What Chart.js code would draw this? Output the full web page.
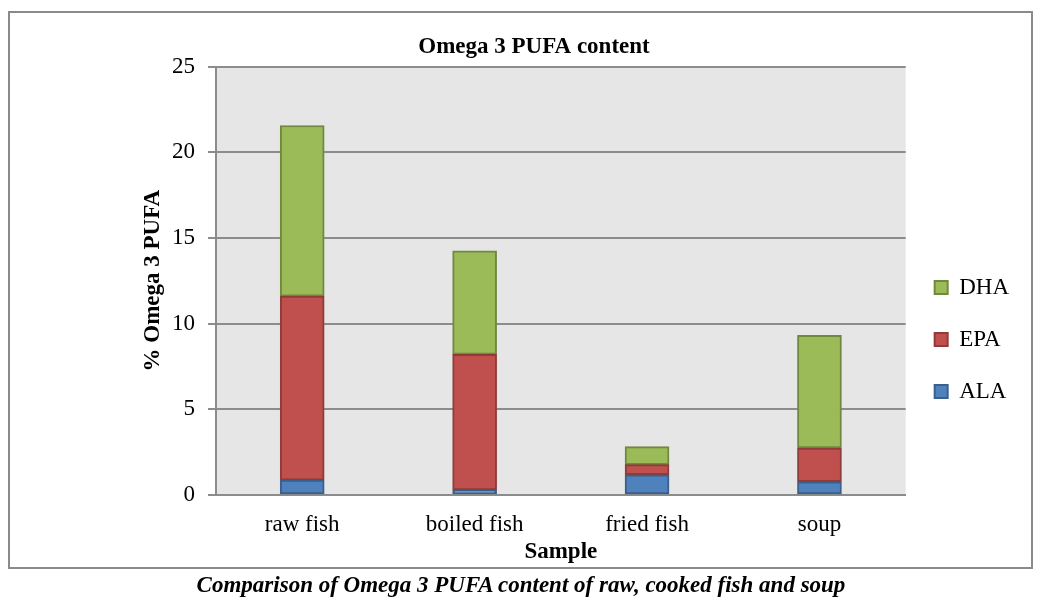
<!DOCTYPE html>
<html>
<head>
<meta charset="utf-8">
<script src="https://cdn.jsdelivr.net/npm/chart.js@4.4.1/dist/chart.umd.min.js"></script>
<style>
  html, body { margin: 0; padding: 0; background: #fff; }
  #wrap { position: relative; width: 1041px; height: 598px; overflow: hidden; }
  #frame { position: absolute; left: 8px; top: 11px; width: 1025px; height: 558px;
           border: 2px solid #8a8a8a; box-sizing: border-box; pointer-events: none; }
  #chart { position: absolute; left: 0; top: 0; }
  #caption { position: absolute; left: 0; top: 571px; width: 1042px; text-align: center;
             font: italic bold 23px "Liberation Serif", "Times New Roman", serif; line-height: 28px; color: #000; }
</style>
</head>
<body>
<div id="wrap">
  <div id="frame"></div>
  <canvas id="chart" width="1041" height="598"></canvas>
  <div id="caption">Comparison of Omega 3 PUFA content of raw, cooked fish and soup</div>
</div>
<script>
  const samples = ["raw fish", "boiled fish", "fried fish", "soup"];
  const ala = [0.86, 0.28, 1.17, 0.76];
  const epa = [10.74, 7.92, 0.59, 1.97];
  const dha = [9.96, 6.05, 1.05, 6.58];
  const yTicks = [0, 5, 10, 15, 20, 25];

  const serif = "'Liberation Serif', 'Times New Roman', serif";
  const gridGray = "#8c8c8c";

  // grey plot background like the original
  const plotBg = {
    id: "plotBg",
    beforeDraw(chart) {
      const { ctx, chartArea: a } = chart;
      ctx.save();
      ctx.fillStyle = "#e6e6e6";
      ctx.fillRect(a.left, a.top, a.right - a.left, a.bottom - a.top);
      ctx.restore();
    }
  };

  new Chart(document.getElementById("chart").getContext("2d"), {
    type: "bar",
    data: {
      labels: samples,
      datasets: [
        { label: "ALA", data: ala, backgroundColor: "#4f81bd", borderColor: "#3a5f8b" },
        { label: "EPA", data: epa, backgroundColor: "#c0504d", borderColor: "#8e3b39" },
        { label: "DHA", data: dha, backgroundColor: "#9bbb59", borderColor: "#71893f" }
      ]
    },
    options: {
      responsive: false,
      animation: false,
      devicePixelRatio: 1,
      layout: { padding: { left: 49, right: 22, top: 0, bottom: 32 } },
      datasets: { bar: { barThickness: 44, borderWidth: 2, borderSkipped: false } },
      scales: {
        x: {
          stacked: true,
          grid: { display: false },
          border: { display: true, color: gridGray, width: 2 },
          ticks: { color: "#000", padding: 8, font: { family: serif, size: 23 } },
          title: { display: true, text: "Sample", color: "#000", padding: { top: -8, bottom: 0 },
                   font: { family: serif, size: 23, weight: "bold" } }
        },
        y: {
          stacked: true,
          min: 0, max: 25,
          afterBuildTicks(scale) { scale.ticks = yTicks.map(v => ({ value: v })); },
          afterFit(scale) { scale.width = 167; },
          grid: { color: gridGray, lineWidth: 2, tickLength: 8 },
          border: { display: true, color: gridGray, width: 2 },
          ticks: { color: "#000", padding: 13, font: { family: serif, size: 23 } },
          title: { display: true, text: "% Omega 3 PUFA", color: "#000", padding: { top: 90, bottom: 0 },
                   font: { family: serif, size: 23, weight: "bold" } }
        }
      },
      plugins: {
        title: { display: true, text: "Omega 3 PUFA content", color: "#000",
                 padding: { top: 33, bottom: 6 }, font: { family: serif, size: 23, weight: "bold" } },
        legend: {
          position: "right",
          reverse: true,
          title: { display: true, text: "", padding: { top: 101, bottom: 0 }, font: { size: 10 } },
          labels: { color: "#000", boxWidth: 13, boxHeight: 13, padding: 29,
                    font: { family: serif, size: 23 } }
        },
        tooltip: { enabled: false }
      }
    },
    plugins: [plotBg]
  });
</script>
</body>
</html>
